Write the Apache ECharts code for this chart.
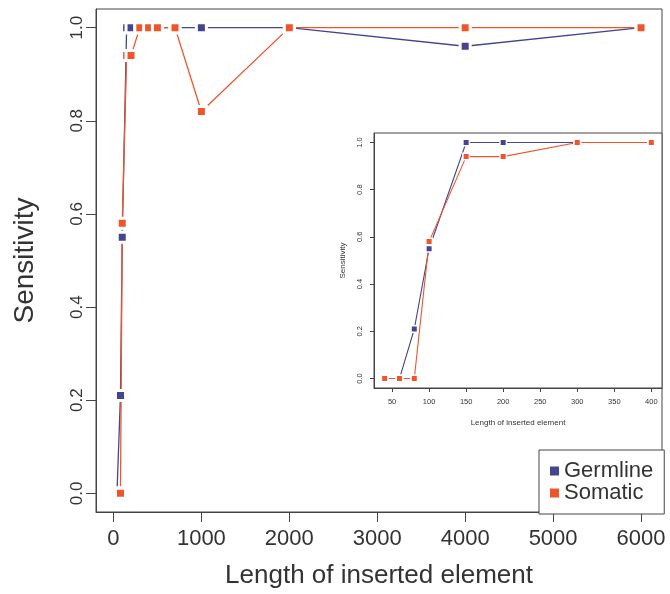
<!DOCTYPE html>
<html>
<head>
<meta charset="utf-8">
<script src="https://cdn.jsdelivr.net/npm/echarts@6/dist/echarts.min.js"></script>
<style>
  html, body { margin: 0; padding: 0; background: #fff; }
  #chart { width: 670px; height: 594px; }
</style>
</head>
<body>
<div id="chart"></div>
<script>
// insert length (bp) and sensitivity
var lengths = [40, 60, 80, 100, 150, 200, 300, 400, 500, 700, 1000, 2000, 4000, 6000];
var germline = [0, 0, 0.21, 0.55, 1, 1, 1, 1, 1, 1, 1, 1, 0.96, 1];
var somatic = [0, 0, 0, 0.58, 0.94, 0.94, 1, 1, 1, 1, 0.82, 1, 1, 1];

var mainXTicks = [0, 1000, 2000, 3000, 4000, 5000, 6000];
var insetXTicks = [50, 100, 150, 200, 250, 300, 350, 400];
var yTicks = [0, 0.2, 0.4, 0.6, 0.8, 1.0];
var insetMaxLen = 400;

var BLUE = '#45458f';
var ORANGE = '#f0552a';
var FONT = 'Liberation Sans, Arial, sans-serif';
var AXIS = '#444';

function pairs(vals, maxLen) {
  var out = [];
  lengths.forEach(function (l, i) {
    if (maxLen == null || l <= maxLen) out.push([l, vals[i]]);
  });
  return out;
}

// R style: extend data range by 4% on each side
function pad(lo, hi) {
  var d = (hi - lo) * 0.04;
  return [lo - d, hi + d];
}
var xMain = pad(40, 6000);
var xInset = pad(40, 400);
var yR = pad(0, 1);

function xAxis(idx, range, ticks, o) {
  return {
    type: 'value', gridIndex: idx, min: range[0], max: range[1],
    splitLine: { show: false },
    axisLine: { show: true, onZero: false, lineStyle: { color: AXIS, width: 1 } },
    axisTick: { show: true, length: o.tick, customValues: ticks, lineStyle: { color: AXIS } },
    axisLabel: { customValues: ticks, fontSize: o.fs, fontFamily: FONT, color: '#333', margin: o.margin,
      formatter: function (v) { return String(v); } },
    name: 'Length of inserted element', nameLocation: 'middle', nameGap: o.gap,
    nameTextStyle: { fontSize: o.nfs, fontFamily: FONT, color: '#333' }
  };
}

function yAxis(idx, o) {
  return {
    type: 'value', gridIndex: idx, min: yR[0], max: yR[1],
    splitLine: { show: false },
    axisLine: { show: true, onZero: false, lineStyle: { color: AXIS, width: 1 } },
    axisTick: { show: true, length: o.tick, customValues: yTicks, lineStyle: { color: AXIS } },
    axisLabel: { customValues: yTicks, rotate: 90, fontSize: o.fs, fontFamily: FONT, color: '#333', margin: o.margin,
      formatter: function (v) { return v.toFixed(1); } },
    name: 'Sensitivity', nameLocation: 'middle', nameGap: o.gap,
    nameTextStyle: { fontSize: o.nfs, fontFamily: FONT, color: '#333' }
  };
}

function lineSeries(name, vals, idx, maxLen, color, size, bw, lw) {
  return {
    name: name, type: 'line', xAxisIndex: idx, yAxisIndex: idx,
    data: pairs(vals, maxLen),
    symbol: 'rect', symbolSize: size, showAllSymbol: true,
    itemStyle: { color: color, borderColor: '#fff', borderWidth: bw },
    lineStyle: { color: color, width: lw },
    emphasis: { disabled: true },
    animation: false
  };
}

var chart = echarts.init(document.getElementById('chart'));
chart.setOption({
  animation: false,
  grid: [
    { left: 96, top: 9, width: 566, height: 505, show: true, borderColor: AXIS, borderWidth: 1, backgroundColor: '#fff' },
    { left: 374, top: 133, width: 288, height: 255, show: true, borderColor: AXIS, borderWidth: 1, backgroundColor: '#fff' }
  ],
  xAxis: [
    xAxis(0, xMain, mainXTicks, { tick: 10, fs: 22, margin: 16, gap: 51, nfs: 26 }),
    xAxis(1, xInset, insetXTicks, { tick: 4, fs: 7.5, margin: 10, gap: 31, nfs: 8 })
  ],
  yAxis: [
    yAxis(0, { tick: 10, fs: 17, margin: 10, gap: 57, nfs: 28 }),
    yAxis(1, { tick: 4, fs: 7.5, margin: 10, gap: 27, nfs: 8 })
  ],
  legend: {
    data: ['Germline', 'Somatic'],
    orient: 'vertical', left: 539, top: 450,
    icon: 'rect', itemWidth: 11, itemHeight: 11, itemGap: 0,
    borderColor: AXIS, borderWidth: 1, backgroundColor: '#fff', borderRadius: 0,
    padding: [10, 11, 10, 9],
    textStyle: { fontSize: 22, lineHeight: 21, fontFamily: FONT, color: '#333', padding: [0, 0, 0, -1] }
  },
  series: [
    lineSeries('Germline', germline, 0, null, BLUE, 10, 3, 1.3),
    lineSeries('Somatic', somatic, 0, null, ORANGE, 10, 3, 1.3),
    lineSeries('Germline', germline, 1, insetMaxLen, BLUE, 6.5, 1.5, 1.1),
    lineSeries('Somatic', somatic, 1, insetMaxLen, ORANGE, 6.5, 1.5, 1.1)
  ]
});
</script>
</body>
</html>
